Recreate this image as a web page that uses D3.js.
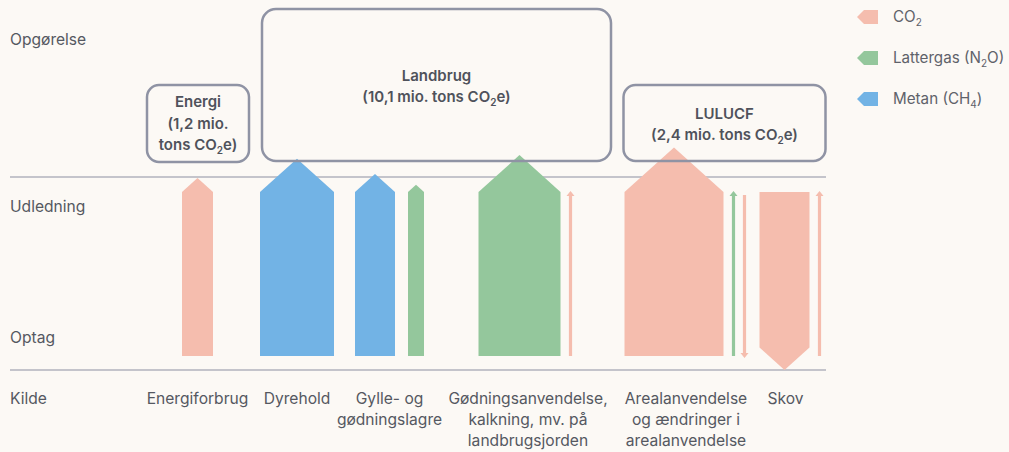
<!DOCTYPE html>
<html>
<head>
<meta charset="utf-8">
<script src="https://cdn.jsdelivr.net/npm/d3@7"></script>
<style>
  html, body { margin: 0; padding: 0; background: #fcf9f5; }
  svg { display: block; }
  text { font-family: Inter, "Open Sans", sans-serif; fill: #555861; }
</style>
</head>
<body>
<svg id="chart" width="1009" height="452"></svg>
<script>
// ---------------- DATA ----------------
const rowLabels = ["Opgørelse", "Udledning", "Optag", "Kilde"];
const categories = ["Energiforbrug", "Dyrehold", "Gylle", "Gødningsanvendelse", "Arealanvendelse", "Skov"];
const categoryLabelLines = [
  ["Energiforbrug"],
  ["Dyrehold"],
  ["Gylle- og", "gødningslagre"],
  ["Gødningsanvendelse,", "kalkning, mv. på", "landbrugsjorden"],
  ["Arealanvendelse", "og ændringer i", "arealanvendelse"],
  ["Skov"]
];
const gases = ["CO2", "N2O", "CH4"];
const gasLegendLabels = [["CO", "2", ""], ["Lattergas (N", "2", "O)"], ["Metan (CH", "4", ")"]];

// flows (one entry per arrow); value = relative size (0 = minor flow, thin arrow)
const flowCategory  = ["Energiforbrug", "Dyrehold", "Gylle", "Gylle", "Gødningsanvendelse", "Gødningsanvendelse", "Arealanvendelse", "Arealanvendelse", "Arealanvendelse", "Skov", "Skov"];
const flowGas       = ["CO2", "CH4", "CH4", "N2O", "N2O", "CO2", "CO2", "N2O", "CO2", "CO2", "CO2"];
const flowValue     = [1.24, 2.96, 1.6, 0.64, 3.28, 0, 3.96, 0, 0, 2.0, 0];
const flowDirection = ["up", "up", "up", "up", "up", "up", "up", "up", "down", "down", "up"];

// sector boxes
const sectorNames  = ["Energi", "Landbrug", "LULUCF"];
const sectorTotals = ["1,2", "10,1", "2,4"];

// ---------------- LAYOUT ----------------
const svg = d3.select("#chart");
const colors = d3.scaleOrdinal().domain(gases).range(["#f5bdae", "#94c79c", "#72b3e5"]);

const groupX = d3.scaleOrdinal().domain(categories).range([197.5, 297, 389.5, 525, 685, 790]);
const labelShift = d3.scaleOrdinal().domain(categories).range([0, 0, 0, 3, 1, -4.5]);
const widthScale = d3.scaleLinear().domain([0, 1]).range([0, 25]);
// level: 0 = base of bars (Optag row), 1 = top of bar bodies
const yLevel = d3.scaleLinear().domain([0, 1]).range([356, 192]);
const lineTop = 177, lineBottom = 370;

svg.selectAll("line.guide").data([lineTop, lineBottom]).join("line")
  .attr("x1", 10).attr("x2", 826).attr("y1", d => d).attr("y2", d => d)
  .attr("stroke", "#c4c4cb").attr("stroke-width", 2);

const rowY = [40, 207, 338, 399];
svg.selectAll("text.row").data(rowLabels).join("text")
  .attr("x", 10).attr("y", (d, i) => rowY[i]).attr("dy", "0.35em")
  .attr("font-size", 15.6).text(d => d);

const flows = flowValue.map((v, i) => ({
  cat: flowCategory[i], gas: flowGas[i], value: v, dir: flowDirection[i]
}));
categories.forEach(cat => {
  const items = flows.filter(f => f.cat === cat);
  let cursor = 0, prev = null;
  items.forEach(f => {
    const w = f.value > 0 ? widthScale(f.value) : 2;
    const gap = prev === null ? 0 : (prev.value > 0 && f.value > 0 ? 13 : 9);
    f.x0 = cursor + gap; f.w = w; cursor = f.x0 + w; prev = f;
  });
  const offset = groupX(cat) - cursor / 2;
  items.forEach(f => { f.x0 += offset; f.x1 = f.x0 + f.w; f.cx = f.x0 + f.w / 2; });
});

const big = flows.filter(f => f.value > 0);
const thin = flows.filter(f => f.value === 0);

function bigPath(f) {
  const head = 0.9 * f.w / 2;
  if (f.dir === "up") {
    const b = yLevel(0), s = yLevel(1);
    return `M${f.x0},${b}L${f.x0},${s}L${f.cx},${s - head}L${f.x1},${s}L${f.x1},${b}Z`;
  } else {
    const t = yLevel(1), apex = lineBottom, s = apex - head;
    return `M${f.x0},${t}L${f.x1},${t}L${f.x1},${s}L${f.cx},${apex}L${f.x0},${s}Z`;
  }
}
svg.selectAll("path.big").data(big).join("path")
  .attr("d", bigPath).attr("fill", d => colors(d.gas));

function thinPath(f) {
  const hw = 1.6, ah = 4, head = 5;
  if (f.dir === "up") {
    const b = yLevel(0), t = yLevel(1) - 1;
    return `M${f.cx - hw},${b}L${f.cx - hw},${t + head}L${f.cx - ah},${t + head}L${f.cx},${t}L${f.cx + ah},${t + head}L${f.cx + hw},${t + head}L${f.cx + hw},${b}Z`;
  } else {
    const t = yLevel(1) + 3, b = yLevel(0) + 2;
    return `M${f.cx - hw},${t}L${f.cx - hw},${b - head}L${f.cx - ah},${b - head}L${f.cx},${b}L${f.cx + ah},${b - head}L${f.cx + hw},${b - head}L${f.cx + hw},${t}Z`;
  }
}
svg.selectAll("path.thin").data(thin).join("path")
  .attr("d", thinPath).attr("fill", d => colors(d.gas));

const labels = svg.selectAll("text.cat").data(categories).join("text")
  .attr("text-anchor", "middle").attr("font-size", 15.6)
  .attr("transform", d => `translate(${groupX(d) + labelShift(d)},399)`);
labels.each(function (d, i) {
  d3.select(this).selectAll("tspan").data(categoryLabelLines[i]).join("tspan")
    .attr("x", 0).attr("y", (l, j) => j * 20.7).attr("dy", "0.35em").text(l => l);
});

const boxGeom = [
  { x: 147, y: 85, w: 102, h: 77, r: 12, textY: [102, 123.5, 145], lines: 3 },
  { x: 262, y: 9, w: 349, h: 152, r: 14, textY: [76, 97], lines: 2 },
  { x: 623.5, y: 85, w: 202, h: 76, r: 12, textY: [114, 135], lines: 2 }
];
sectorNames.forEach((name, i) => {
  const g = boxGeom[i];
  svg.append("rect").attr("x", g.x).attr("y", g.y).attr("width", g.w).attr("height", g.h)
    .attr("rx", g.r).attr("ry", g.r).attr("fill", "none")
    .attr("stroke", "#8f93a4").attr("stroke-width", 2.5);
  const cx = g.x + g.w / 2;
  const lines = g.lines === 3
    ? [[name], [`(${sectorTotals[i]} mio.`], ["tons CO", "2", "e)"]]
    : [[name], [`(${sectorTotals[i]} mio. tons CO`, "2", "e)"]];
  lines.forEach((parts, j) => {
    const txt = svg.append("text").attr("text-anchor", "middle").attr("font-size", 15)
      .attr("font-weight", 600).attr("x", cx).attr("y", g.textY[j]).attr("dy", "0.35em")
      .style("fill", "#4f525b");
    txt.append("tspan").text(parts[0]);
    if (parts.length > 1) {
      txt.append("tspan").attr("font-size", 10).attr("dy", 4).text(parts[1]);
      txt.append("tspan").attr("dy", -4).text(parts[2]);
    }
  });
});

const legendY = [17, 58, 99];
gases.forEach((gas, i) => {
  const y = legendY[i];
  svg.append("path")
    .attr("d", `M857,${y}L864,${y - 7}L878,${y - 7}L878,${y + 7}L864,${y + 7}Z`)
    .attr("fill", colors(gas));
  const parts = gasLegendLabels[i];
  const t = svg.append("text").attr("x", 893).attr("y", y).attr("dy", "0.3em").attr("font-size", 15.2)
    .style("fill", "#5f626a");
  t.append("tspan").text(parts[0]);
  t.append("tspan").attr("font-size", 10).attr("dy", 4).text(parts[1]);
  if (parts[2]) t.append("tspan").attr("dy", -4).text(parts[2]);
});
</script>
</body>
</html>
